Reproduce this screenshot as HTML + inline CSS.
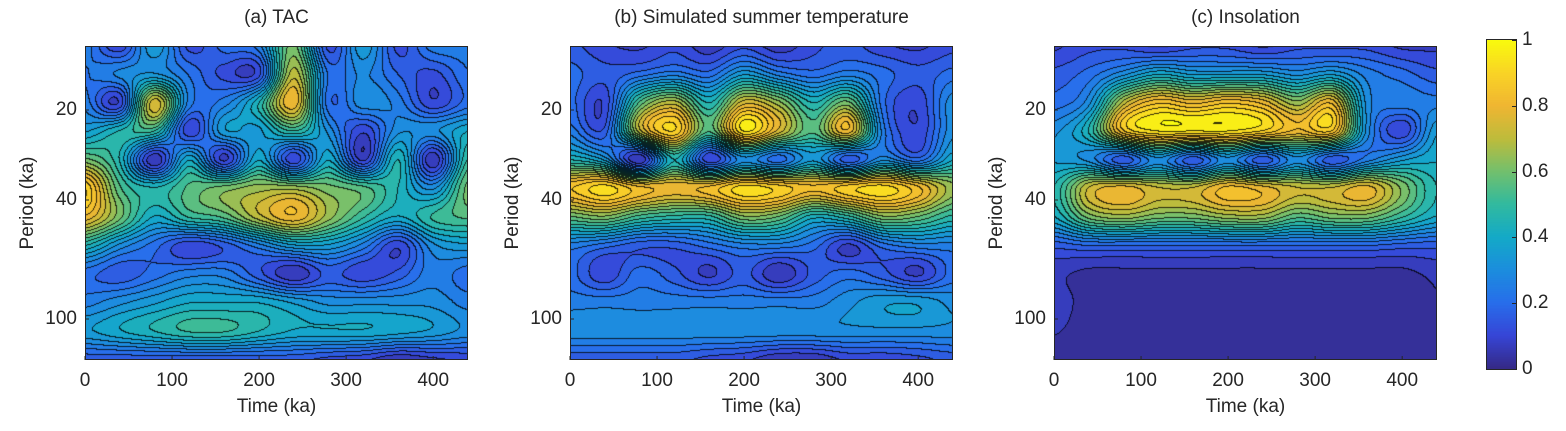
<!DOCTYPE html>
<html><head><meta charset="utf-8">
<style>
body{margin:0;width:1566px;height:431px;background:#fff;overflow:hidden;font-family:"Liberation Sans",Arial,sans-serif;}
#root{position:relative;width:1566px;height:431px;}
.t{position:absolute;font-size:19px;line-height:22px;color:#262626;white-space:nowrap;}
canvas{position:absolute;}
</style></head>
<body><div id="root"></div>
<script>
const times=[0,40,80,120,160,200,240,280,320,360,400,440];
const periods=[12.2,15.2,19.0,23.5,29.4,36.4,45.7,57,70.6,88,110,137];
const xTicks=[0,100,200,300,400];
const yTicks=[20,40,100];
const cbTicks=[0,0.2,0.4,0.6,0.8,1];
const titles=["(a) TAC","(b) Simulated summer temperature","(c) Insolation"];
const powerA=[
[0.25,0.1,0.35,0.12,0.2,0.25,0.6,0.12,0.35,0.12,0.25,0.25],
[0.22,0.28,0.32,0.22,0.12,0.12,0.7,0.22,0.28,0.18,0.12,0.22],
[0.25,0.1,0.75,0.25,0.25,0.45,0.8,0.2,0.3,0.25,0.1,0.2],
[0.35,0.45,0.5,0.1,0.35,0.35,0.5,0.3,0.1,0.3,0.3,0.4],
[0.6,0.45,0.05,0.4,0.08,0.4,0.1,0.4,0.08,0.45,0.05,0.5],
[0.9,0.55,0.45,0.55,0.6,0.65,0.65,0.6,0.55,0.45,0.3,0.6],
[0.8,0.6,0.4,0.5,0.55,0.7,0.8,0.65,0.5,0.4,0.5,0.55],
[0.45,0.3,0.2,0.1,0.15,0.25,0.35,0.35,0.25,0.1,0.3,0.35],
[0.2,0.15,0.2,0.25,0.25,0.15,0.05,0.15,0.1,0.15,0.25,0.2],
[0.25,0.3,0.35,0.4,0.4,0.4,0.35,0.3,0.3,0.3,0.3,0.25],
[0.35,0.4,0.45,0.5,0.5,0.45,0.4,0.4,0.4,0.38,0.35,0.3],
[0.15,0.15,0.15,0.15,0.15,0.15,0.15,0.12,0.1,0.05,0.08,0.1]];
const powerB=[
[0.15,0.1,0.08,0.12,0.06,0.12,0.06,0.12,0.15,0.1,0.08,0.12],
[0.2,0.15,0.2,0.25,0.2,0.35,0.25,0.2,0.25,0.2,0.15,0.2],
[0.2,0.1,0.55,0.7,0.45,0.75,0.65,0.45,0.6,0.2,0.1,0.3],
[0.25,0.15,0.7,0.9,0.55,0.95,0.75,0.55,0.8,0.25,0.1,0.3],
[0.45,0.35,0.05,0.45,0.1,0.3,0.2,0.35,0.15,0.3,0.2,0.4],
[0.85,0.92,0.82,0.8,0.82,0.92,0.88,0.82,0.88,0.92,0.82,0.65],
[0.58,0.62,0.52,0.48,0.48,0.62,0.58,0.42,0.48,0.62,0.58,0.48],
[0.25,0.2,0.15,0.15,0.2,0.25,0.25,0.2,0.08,0.2,0.25,0.25],
[0.2,0.1,0.2,0.15,0.08,0.15,0.05,0.15,0.2,0.15,0.08,0.2],
[0.25,0.25,0.25,0.25,0.25,0.25,0.25,0.25,0.3,0.35,0.35,0.3],
[0.3,0.3,0.3,0.3,0.3,0.3,0.3,0.3,0.3,0.3,0.3,0.3],
[0.15,0.15,0.15,0.15,0.12,0.1,0.05,0.05,0.1,0.1,0.12,0.15]];
const powerC=[
[0.08,0.12,0.12,0.08,0.12,0.12,0.08,0.12,0.12,0.12,0.08,0.08],
[0.15,0.2,0.3,0.4,0.35,0.35,0.35,0.3,0.35,0.25,0.2,0.15],
[0.2,0.3,0.7,0.85,0.8,0.85,0.8,0.65,0.8,0.3,0.25,0.25],
[0.3,0.45,0.85,0.95,0.95,0.95,0.9,0.8,0.85,0.3,0.1,0.35],
[0.35,0.3,0.15,0.3,0.15,0.3,0.15,0.3,0.15,0.25,0.35,0.4],
[0.45,0.72,0.78,0.72,0.72,0.82,0.78,0.72,0.72,0.78,0.62,0.45],
[0.4,0.6,0.65,0.6,0.6,0.65,0.65,0.55,0.6,0.6,0.5,0.4],
[0.15,0.18,0.18,0.18,0.18,0.18,0.18,0.18,0.18,0.18,0.16,0.15],
[0.06,0.03,0.03,0.03,0.03,0.03,0.03,0.03,0.03,0.03,0.03,0.06],
[0.08,0.02,0.02,0.02,0.02,0.02,0.02,0.02,0.02,0.02,0.02,0.04],
[0.05,0.02,0.02,0.02,0.02,0.02,0.02,0.02,0.02,0.02,0.02,0.02],
[0.02,0.02,0.02,0.02,0.02,0.02,0.02,0.02,0.02,0.02,0.02,0.02]];
const panelsData=[powerA,powerB,powerC];

const stops=[[53,42,135],[55,70,215],[40,110,235],[28,142,222],[20,170,200],[50,186,160],[115,192,110],[190,188,60],[240,182,50],[250,212,38],[249,251,14]];
function parula(v){v=Math.max(0,Math.min(1,v))*10;const i=Math.min(9,Math.floor(v)),f=v-i;const a=stops[i],b=stops[i+1];return [a[0]+(b[0]-a[0])*f,a[1]+(b[1]-a[1])*f,a[2]+(b[2]-a[2])*f];}

const root=document.getElementById('root');
const PL=[85,570,1054],PW=383,PT=46,PH=314;
function xS(p,t){return PL[p]+(t-times[0])/(times[times.length-1]-times[0])*PW;}
function yS(per){return 110+299*Math.log10(per/20);}
function txt(s,x,y,anchor,name){const d=document.createElement('div');d.className='t';d.textContent=s;d.style.left=x+'px';d.style.top=y+'px';d.style.transform=anchor;


root.appendChild(d);return d;}
const rowY=periods.map(yS);
function cr(p0,p1,p2,p3,t){return 0.5*((2*p1)+(-p0+p2)*t+(2*p0-5*p1+4*p2-p3)*t*t+(-p0+3*p1-3*p2+p3)*t*t*t);}
function rowIndex(py){let r=0;while(r<rowY.length-2&&rowY[r+1]<py)r++;let f=(py-rowY[r])/(rowY[r+1]-rowY[r]);return r+Math.max(0,Math.min(1,f));}
function colIndex(px,p){const t=times[0]+(px-PL[p])/PW*(times[times.length-1]-times[0]);let c=0;while(c<times.length-2&&times[c+1]<t)c++;let f=(t-times[c])/(times[c+1]-times[c]);return c+Math.max(0,Math.min(1,f));}
function g2(g,r,c){r=Math.max(0,Math.min(g.length-1,r));c=Math.max(0,Math.min(g[0].length-1,c));return g[r][c];}
function sample(g,px,py,p){
  const c=colIndex(px,p),r=rowIndex(py);const ci=Math.min(g[0].length-2,Math.floor(c)),cf=c-ci,ri=Math.min(g.length-2,Math.floor(r)),rf=r-ri;
  const rows=[];for(let k=-1;k<=2;k++){const rr=ri+k;rows.push(cr(g2(g,rr,ci-1),g2(g,rr,ci),g2(g,rr,ci+1),g2(g,rr,ci+2),cf));}
  return Math.max(0.01,Math.min(1,cr(rows[0],rows[1],rows[2],rows[3],rf)));}

for(let p=0;p<3;p++){
  const cv=document.createElement('canvas');cv.width=PW;cv.height=PH;cv.style.left=PL[p]+'px';cv.style.top=PT+'px';
  
  
  root.appendChild(cv);
  const ctx=cv.getContext('2d');const img=ctx.createImageData(PW,PH);const g=panelsData[p];
  const vals=new Float32Array(PW*PH);
  for(let y=0;y<PH;y++)for(let x=0;x<PW;x++)vals[y*PW+x]=sample(g,PL[p]+x+0.5,PT+y+0.5,p);
  const step=0.045;
  for(let y=0;y<PH;y++)for(let x=0;x<PW;x++){const v=vals[y*PW+x];let c=parula(Math.floor(v/step)*step+step/2);
    const L=Math.floor(v/step);
    if(x<PW-1&&y<PH-1){const L2=Math.floor(vals[y*PW+x+1]/step),L3=Math.floor(vals[(y+1)*PW+x]/step);if(L2!==L||L3!==L)c=[c[0]*0.2,c[1]*0.2,c[2]*0.2];}
    const k=(y*PW+x)*4;img.data[k]=c[0];img.data[k+1]=c[1];img.data[k+2]=c[2];img.data[k+3]=255;}
  ctx.putImageData(img,0,0);
  const ns='http://www.w3.org/2000/svg';
  const svg=document.createElementNS(ns,'svg');svg.setAttribute('width',1566);svg.setAttribute('height',431);svg.style.position='absolute';svg.style.left='0';svg.style.top='0';
  
  
  const r=document.createElementNS(ns,'rect');r.setAttribute('x',PL[p]+0.5);r.setAttribute('y',PT+0.5);r.setAttribute('width',PW-1);r.setAttribute('height',PH-1);r.setAttribute('fill','none');r.setAttribute('stroke','#262626');
  
  
  svg.appendChild(r);
  xTicks.forEach(t=>{const x=xS(p,t);const l=document.createElementNS(ns,'line');l.setAttribute('x1',x);l.setAttribute('x2',x);l.setAttribute('y1',PT+PH);l.setAttribute('y2',PT+PH-4);l.setAttribute('stroke','#262626');svg.appendChild(l);
    txt(String(t),x,370,'translateX(-50%)','x-tick-label');});
  yTicks.forEach(t=>{const y=yS(t);const l=document.createElementNS(ns,'line');l.setAttribute('x1',PL[p]);l.setAttribute('x2',PL[p]+4);l.setAttribute('y1',y);l.setAttribute('y2',y);l.setAttribute('stroke','#262626');svg.appendChild(l);
    txt(String(t),PL[p]-8,y,'translate(-100%,-50%)','y-tick-label');});
  root.appendChild(svg);
  txt(titles[p],PL[p]+PW/2,7,'translateX(-50%)','panel-title');
  txt('Time (ka)',PL[p]+PW/2,396,'translateX(-50%)','x-axis-title');
  txt('Period (ka)',PL[p]-57,PT+PH/2,'translate(-50%,-50%) rotate(-90deg)','y-axis-title');
}
const CX=1487,CW=29,CT=40,CH=329;
const cb=document.createElement('canvas');cb.width=CW;cb.height=CH;cb.style.left=CX+'px';cb.style.top=CT+'px';cb.style.outline='1px solid #262626';


root.appendChild(cb);
const cc=cb.getContext('2d');for(let y=0;y<CH;y++){const c=parula(1-y/(CH-1));cc.fillStyle=`rgb(${c[0]|0},${c[1]|0},${c[2]|0})`;cc.fillRect(0,y,CW,1);}
cbTicks.forEach(v=>{const y=CT+CH-v*CH;txt(String(v),CX+CW+6,y,'translateY(-50%)','colorbar-tick-label');
  const d=document.createElement('div');d.style.cssText=`position:absolute;left:${CX+CW-4}px;top:${y}px;width:4px;height:1px;background:#262626`;
  
  
  root.appendChild(d);});
</script>
</body></html>
